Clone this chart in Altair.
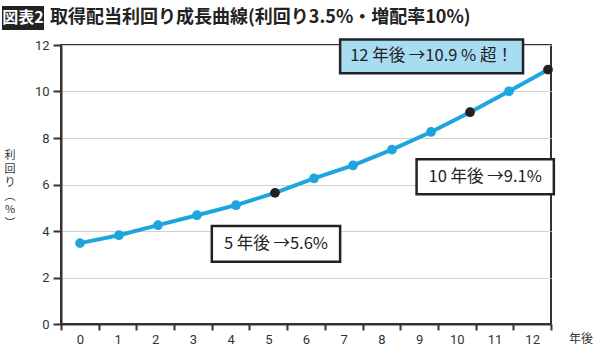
import altair as alt
import pandas as pd

# ---- data ----
years = list(range(13))
yields = [3.48, 3.82, 4.25, 4.68, 5.11, 5.64, 6.26, 6.82, 7.50, 8.26, 9.11, 10.01, 10.94]
highlight_years = [5, 10, 12]
y_ticks = [0, 2, 4, 6, 8, 10, 12]

title_tag = "図表2"
title_text = "取得配当利回り成長曲線(利回り3.5%・増配率10%)"
y_title = "利\n回\nり\n︵\n%\n︶"
x_unit = "年後"

ann_text = ["5 年後 →5.6%", "10 年後 →9.1%", "12 年後 →10.9 % 超！"]
ann_x = [3.38, 8.63, 6.67]
ann_x2 = [6.67, 12.15, 11.36]
ann_y = [2.68, 5.58, 10.79]
ann_y2 = [4.21, 7.09, 12.24]
ann_kind = ["plain", "plain", "blue"]

# ---- tables ----
df = pd.DataFrame({"year": years, "value": yields})
df["hl"] = df["year"].isin(highlight_years)
ann = pd.DataFrame({"text": ann_text, "x": ann_x, "x2": ann_x2, "y": ann_y, "y2": ann_y2, "kind": ann_kind})
ann["cx"] = (ann["x"] + ann["x2"]) / 2
ann["cy"] = (ann["y"] + ann["y2"]) / 2
one = pd.DataFrame({"t": [title_text], "tag": [title_tag], "yt": [y_title], "u": [x_unit]})

JP = "Noto Sans CJK JP"
NUM = "Roboto"
BLUE = "#1ea5de"
LIGHT = "#a8dcf3"
DARK = "#222222"

xq = alt.Scale(domain=[-0.487, 12.077], nice=False, zero=False)
yscale = alt.Scale(domain=[0, 12], nice=False, zero=True)

axis_layer = alt.Chart(df).mark_point(opacity=0).encode(
    x=alt.X("year:O", scale=alt.Scale(paddingInner=0, paddingOuter=0),
            axis=alt.Axis(labelAngle=0, tickBand="extent", tickSize=6, tickWidth=2,
                          domainWidth=2, domainColor="#333", tickColor="#333",
                          labelFontSize=13, labelFont=NUM, labelColor="#333",
                          labelPadding=3, title=None, grid=False)),
    y=alt.Y("value:Q", scale=yscale,
            axis=alt.Axis(values=y_ticks, grid=True, gridColor="#d0d0d0", gridWidth=1,
                          domainColor="#333", domainWidth=2, tickColor="#333", tickWidth=2,
                          tickSize=8, labelFontSize=13, labelFont=NUM, labelColor="#333",
                          labelPadding=4, title=None)),
)

line = alt.Chart(df).mark_line(color=BLUE, strokeWidth=4).encode(
    x=alt.X("year:Q", scale=xq, axis=None),
    y=alt.Y("value:Q", scale=yscale),
)

points = alt.Chart(df).mark_circle(size=95, opacity=1).encode(
    x=alt.X("year:Q", scale=xq, axis=None),
    y=alt.Y("value:Q", scale=yscale),
    color=alt.Color("hl:N", scale=alt.Scale(domain=[False, True], range=[BLUE, DARK]), legend=None),
)

boxes = alt.Chart(ann).mark_rect(stroke=DARK, strokeWidth=2.5).encode(
    x=alt.X("x:Q", scale=xq, axis=None),
    x2="x2:Q",
    y=alt.Y("y:Q", scale=yscale),
    y2="y2:Q",
    fill=alt.Color("kind:N", scale=alt.Scale(domain=["plain", "blue"], range=["white", LIGHT]), legend=None),
)

box_text = alt.Chart(ann).mark_text(font=JP, fontSize=16.5, color=DARK, baseline="middle", align="center").encode(
    x=alt.X("cx:Q", scale=xq, axis=None),
    y=alt.Y("cy:Q", scale=yscale),
    text="text:N",
)

tag_box = alt.Chart(one).mark_rect(fill=DARK).encode(
    x=alt.value(-59), x2=alt.value(-17), y=alt.value(-39), y2=alt.value(-15)
)
tag_text = alt.Chart(one).mark_text(font=JP, fontSize=16, fontWeight="bold", color="white",
                                    align="center", baseline="middle").encode(
    x=alt.value(-38), y=alt.value(-27), text="tag:N"
)
title_mark = alt.Chart(one).mark_text(font=JP, fontSize=18, fontWeight="bold", color=DARK,
                                      align="left", baseline="middle").encode(
    x=alt.value(-11), y=alt.value(-27), text="t:N"
)
ytitle_mark = alt.Chart(one).mark_text(font=JP, fontSize=11, color="#333", align="center",
                                       baseline="top", lineBreak="\n", lineHeight=13.5).encode(
    x=alt.value(-51), y=alt.value(105), text="yt:N"
)
unit_mark = alt.Chart(one).mark_text(font=JP, fontSize=12, color="#333", align="center",
                                     baseline="middle").encode(
    x=alt.value(520), y=alt.value(294), text="u:N"
)

chart = alt.layer(
    axis_layer, line, points, boxes, box_text,
    tag_box, tag_text, title_mark, ytitle_mark, unit_mark
).resolve_scale(x="independent").properties(
    width=490, height=279,
    padding={"left": 61, "top": 45, "right": 49, "bottom": 26},
    autosize=alt.AutoSizeParams(type="none"),
    background="white",
).configure_view(stroke="#333", strokeWidth=2)

chart.save("out.html", embed_options={"renderer": "svg", "actions": False})
